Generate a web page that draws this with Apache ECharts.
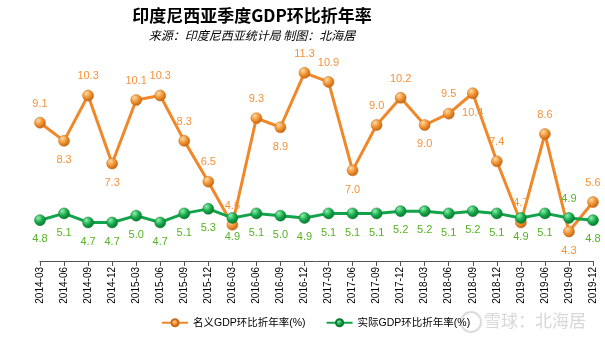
<!DOCTYPE html>
<html><head><meta charset="utf-8">
<script src="https://cdn.jsdelivr.net/npm/echarts@6/dist/echarts.min.js"></script>
<style>html,body{margin:0;padding:0;background:#fff}#c{width:605px;height:340px}</style>
</head><body><div id="c"></div>
<script>
var categories = ['2014-03','2014-06','2014-09','2014-12','2015-03','2015-06','2015-09','2015-12','2016-03','2016-06','2016-09','2016-12','2017-03','2017-06','2017-09','2017-12','2018-03','2018-06','2018-09','2018-12','2019-03','2019-06','2019-09','2019-12'];
var nominal = [9.1,8.3,10.3,7.3,10.1,10.3,8.3,6.5,4.6,9.3,8.9,11.3,10.9,7.0,9.0,10.2,9.0,9.5,10.4,7.4,4.7,8.6,4.3,5.6];
var nominalPos = ['top','bottom','top','bottom','top','top','top','top','top','top','bottom','top','top','bottom','top','top','bottom','top','bottom','top','top','top','bottom','top'];
var real = [4.8,5.1,4.7,4.7,5.0,4.7,5.1,5.3,4.9,5.1,5.0,4.9,5.1,5.1,5.1,5.2,5.2,5.1,5.2,5.1,4.9,5.1,4.9,4.8];
var realPos = ['bottom','bottom','bottom','bottom','bottom','bottom','bottom','bottom','bottom','bottom','bottom','bottom','bottom','bottom','bottom','bottom','bottom','bottom','bottom','bottom','bottom','bottom','top','bottom'];
var seriesNames = ['名义GDP环比折年率(%)','实际GDP环比折年率(%)'];

var ch = echarts.init(document.getElementById('c'));
var font = 'Arial, "Liberation Sans", "Noto Sans CJK SC", sans-serif';
function ball(c1, c2, c3){
  return new echarts.graphic.RadialGradient(0.35,0.3,0.8,[{offset:0,color:c1},{offset:0.5,color:c2},{offset:1,color:c3}]);
}
function mk(vals, pos){
  return vals.map(function(v,i){return {value:v,label:{position:pos[i]}};});
}
function fmt(p){ return Number(p.value).toFixed(1); }
ch.setOption({
  animation:false,
  textStyle:{fontFamily:font},
  title:{text:'印度尼西亚季度GDP环比折年率',subtext:'来源：印度尼西亚统计局 制图：北海居',left:247,textAlign:'center',top:2,itemGap:5,
    textStyle:{fontSize:17,fontWeight:'bold',color:'#000',fontFamily:'"Noto Sans CJK SC", sans-serif'},
    subtextStyle:{fontSize:12,fontStyle:'italic',color:'#000',fontFamily:'"Noto Sans CJK SC", sans-serif'}},
  legend:{bottom:7,left:156,itemWidth:26,itemHeight:9,itemGap:20,textStyle:{fontSize:10.5,color:'#000'},
    data:seriesNames},
  grid:{left:40,right:12,top:57,bottom:79},
  xAxis:{type:'category',data:categories,boundaryGap:false,
    axisLine:{lineStyle:{color:'#555',width:1}},
    axisTick:{alignWithLabel:true,length:5,lineStyle:{color:'#555'}},
    axisLabel:{rotate:90,fontSize:10,color:'#000',interval:0,margin:6}},
  yAxis:{type:'value',min:3,max:12,show:false,splitLine:{show:false}},
  graphic:[
    {type:'circle',shape:{cx:471,cy:322,r:10},style:{fill:'none',stroke:'#dcdcdc',lineWidth:2}},
    {type:'text',left:484,top:312,style:{text:'雪球：北海居',fontSize:17,fill:'#d8d8d8',fontFamily:'"Noto Sans CJK SC", sans-serif'}}
  ],
  series:[
    {name:seriesNames[0],type:'line',data:mk(nominal,nominalPos),symbol:'circle',symbolSize:11,
      lineStyle:{color:'#f0882a',width:3},
      itemStyle:{color:ball('#ffd9a0','#f0902e','#b35a10'),borderColor:'#c76a1a',borderWidth:0.5},
      label:{show:true,fontSize:11,color:'#f5923a',distance:8,formatter:fmt}},
    {name:seriesNames[1],type:'line',data:mk(real,realPos),symbol:'circle',symbolSize:11,
      lineStyle:{color:'#13a34a',width:3},
      itemStyle:{color:ball('#8ff0a8','#16a84c','#056a25'),borderColor:'#0a7a30',borderWidth:0.5},
      label:{show:true,fontSize:11,color:'#56b324',distance:8,formatter:fmt}}
  ]
});
</script></body></html>
